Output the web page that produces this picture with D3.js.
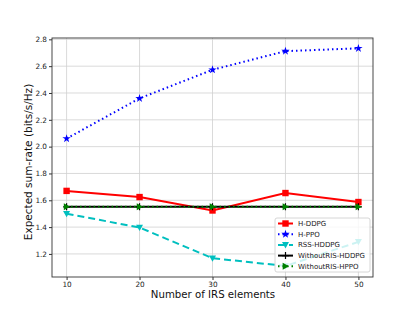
<!DOCTYPE html>
<html><head><meta charset="utf-8">
<script src="https://cdn.jsdelivr.net/npm/d3@7"></script>
<style>body{margin:0;background:#fff}svg{display:block}text{font-family:"DejaVu Sans",sans-serif}</style>
</head><body>
<script>
const xValues = [10, 20, 30, 40, 50];
const hDDPG = [1.67, 1.624, 1.524, 1.654, 1.587];
const hPPO = [2.06, 2.36, 2.573, 2.712, 2.733];
const rssHDDPG = [1.50, 1.397, 1.168, 1.11, 1.29];
const woHDDPG = [1.551, 1.551, 1.551, 1.551, 1.551];
const woHPPO = [1.551, 1.551, 1.551, 1.551, 1.551];
const xTicks = [10, 20, 30, 40, 50];
const yTicks = [1.2, 1.4, 1.6, 1.8, 2.0, 2.2, 2.4, 2.6, 2.8];
const seriesNames = ["H-DDPG", "H-PPO", "RSS-HDDPG", "WithoutRIS-HDDPG", "WithoutRIS-HPPO"];

const W = 415, H = 311;
const m = {l: 52, t: 38, r: 373, b: 277};
const svg = d3.select("body").append("svg").attr("width", W).attr("height", H);
const x = d3.scaleLinear().domain([8, 52]).range([m.l, m.r]);
const y = d3.scaleLinear().domain([1.028, 2.81]).range([m.b, m.t]);

// grid
const g = svg.append("g");
g.selectAll(".gx").data(xTicks).enter().append("line")
  .attr("x1", d => x(d)).attr("x2", d => x(d)).attr("y1", m.t).attr("y2", m.b)
  .attr("stroke", "#d0d0d0").attr("stroke-width", 0.8);
g.selectAll(".gy").data(yTicks).enter().append("line")
  .attr("y1", d => y(d)).attr("y2", d => y(d)).attr("x1", m.l).attr("x2", m.r)
  .attr("stroke", "#d0d0d0").attr("stroke-width", 0.8);

const series = [
  {name: seriesNames[0], vals: hDDPG, color: "#ff0000", dash: null, w: 2, marker: "square"},
  {name: seriesNames[1], vals: hPPO, color: "#0000ff", dash: "1.5,3", w: 2, marker: "star"},
  {name: seriesNames[2], vals: rssHDDPG, color: "#00bfbf", dash: "7,4", w: 2, marker: "tri"},
  {name: seriesNames[3], vals: woHDDPG, color: "#000000", dash: null, w: 2, marker: "plus"},
  {name: seriesNames[4], vals: woHPPO, color: "#008000", dash: "1.5,3", w: 2, marker: "right"}
];

function drawMarker(sel, type, cx, cy, color) {
  if (type === "square") {
    sel.append("rect").attr("x", cx - 3.2).attr("y", cy - 3.2).attr("width", 6.4).attr("height", 6.4).attr("fill", color);
  } else if (type === "star") {
    sel.append("path").attr("d", d3.symbol().type(d3.symbolStar).size(22)()).attr("transform", `translate(${cx},${cy})`).attr("fill", color);
  } else if (type === "tri") {
    sel.append("path").attr("d", `M${cx-3.5},${cy-2.8}L${cx+3.5},${cy-2.8}L${cx},${cy+3.5}Z`).attr("fill", color);
  } else if (type === "plus") {
    sel.append("path").attr("d", `M${cx-3.5},${cy}L${cx+3.5},${cy}M${cx},${cy-3.5}L${cx},${cy+3.5}`).attr("stroke", color).attr("stroke-width", 1.2);
  } else if (type === "right") {
    sel.append("path").attr("d", `M${cx-2.8},${cy-3.5}L${cx-2.8},${cy+3.5}L${cx+3.5},${cy}Z`).attr("fill", color);
  }
}

const line = d3.line().x((d, i) => x(xValues[i])).y(d => y(d));
const plot = svg.append("g");
series.forEach(s => {
  plot.append("path").datum(s.vals).attr("d", line).attr("fill", "none")
    .attr("stroke", s.color).attr("stroke-width", s.w)
    .attr("stroke-dasharray", s.dash);
  s.vals.forEach((v, i) => drawMarker(plot, s.marker, x(xValues[i]), y(v), s.color));
});

// axes frame
svg.append("rect").attr("x", m.l).attr("y", m.t).attr("width", m.r - m.l).attr("height", m.b - m.t)
  .attr("fill", "none").attr("stroke", "#333").attr("stroke-width", 0.9);

const xAxis = d3.axisBottom(x).tickValues(xTicks).tickSize(3).tickPadding(2).tickFormat(d3.format("d"));
const xa = svg.append("g").attr("transform", `translate(0,${m.b})`).call(xAxis);
const yAxis = d3.axisLeft(y).tickValues(yTicks).tickSize(3).tickPadding(2).tickFormat(d3.format(".1f"));
const ya = svg.append("g").attr("transform", `translate(${m.l},0)`).call(yAxis);
[xa, ya].forEach(a => {
  a.select(".domain").remove();
  a.selectAll("text").attr("font-size", 7.3).attr("fill", "#222").attr("font-family", "DejaVu Sans");
  a.selectAll("line").attr("stroke", "#333");
});

svg.append("text").attr("x", 213).attr("y", 298).attr("text-anchor", "middle")
  .attr("font-size", 10.2).attr("fill", "#111").text("Number of IRS elements");
svg.append("text").attr("transform", `translate(32,162) rotate(-90)`).attr("text-anchor", "middle")
  .attr("font-size", 10.5).attr("fill", "#111").text("Expected sum-rate (bits/s/Hz)");

// legend
const lg = svg.append("g");
lg.append("rect").attr("x", 275).attr("y", 218).attr("width", 95).attr("height", 54).attr("rx", 2)
  .attr("fill", "rgba(255,255,255,0.8)").attr("stroke", "#ccc").attr("stroke-width", 0.8);
series.forEach((s, i) => {
  const yy = 223.5 + i * 10.7;
  lg.append("line").attr("x1", 278).attr("x2", 293).attr("y1", yy).attr("y2", yy)
    .attr("stroke", s.color).attr("stroke-width", s.w).attr("stroke-dasharray", s.dash);
  drawMarker(lg, s.marker, 285.5, yy, s.color);
  lg.append("text").attr("x", 298).attr("y", yy + 2.5).attr("font-size", 7).attr("fill", "#222").text(s.name);
});
</script>
</body></html>
